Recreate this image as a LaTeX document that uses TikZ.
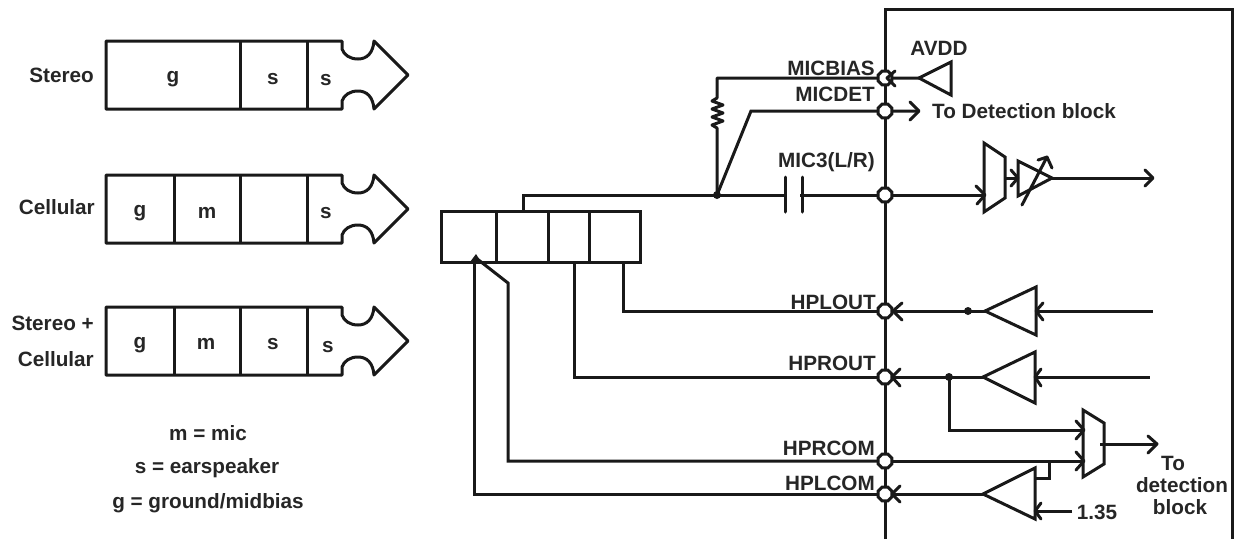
\documentclass[tikz,border=0pt]{standalone}
\usepackage{fontspec}
\setmainfont{Liberation Sans}[BoldFont={Liberation Sans Bold}]
\usetikzlibrary{shapes.geometric}
\begin{document}
\begin{tikzpicture}[x=1pt,y=-1pt,line join=miter,
  ln/.style={line width=3pt,draw=black!90},
  wire/.style={line width=3pt,draw=black!90},
  tip/.style={line width=3pt,draw=black!90,line cap=round,line join=round},
  lbl/.style={font=\bfseries\fontsize{20.7}{22}\selectfont,text=black!85,inner sep=0pt},
  pad/.style={regular polygon,regular polygon sides=8,minimum size=15pt,draw=black!90,fill=white,line width=3pt,inner sep=0pt},
  dotn/.style={circle,fill=black!90,minimum size=8pt,inner sep=0pt}]
\useasboundingbox (0,0) rectangle (1235,539);
\newcommand{\plug}[1]{%
  \draw[ln,line join=round] (106,#1) -- (342,#1) -- (342,#1+8)
    .. controls (344,#1+14) and (350,#1+18) .. (358,#1+18)
    .. controls (367,#1+18) and (373,#1+12) .. (374,#1)
    -- (408,#1+34) -- (374,#1+68)
    .. controls (373,#1+56) and (367,#1+50) .. (358,#1+50)
    .. controls (350,#1+50) and (344,#1+54) .. (342,#1+60)
    -- (342,#1+68) -- (106,#1+68) -- cycle;}
\plug{41}\plug{175}\plug{307}
\draw[ln] (240,41)--(240,109) (307,41)--(307,109);
\draw[ln] (174,175)--(174,243) (240,175)--(240,243) (307,175)--(307,243);
\draw[ln] (174,307)--(174,375) (240,307)--(240,375) (307,307)--(307,375);
\node[lbl,anchor=east] (t1) at (94,75) {Stereo};
\node[lbl,anchor=east] (t2) at (95,207) {Cellular};
\node[lbl,anchor=east] (t3) at (94,323) {Stereo +};
\node[lbl,anchor=east] (t4) at (94,359) {Cellular};
\node[lbl] (a1) at (173,79) {g};
\node[lbl] (a2) at (273,79) {s};
\node[lbl] (a3) at (326,80) {s};
\node[lbl] (b1) at (140,213) {g};
\node[lbl] (b2) at (207,213) {m};
\node[lbl] (b3) at (326,213) {s};
\node[lbl] (c1) at (140,345) {g};
\node[lbl] (c2) at (206,344) {m};
\node[lbl] (c3) at (273,344) {s};
\node[lbl] (c4) at (328,347) {s};
\node[lbl] (k1) at (208,433) {m = mic};
\node[lbl] (k2) at (207,468) {s = earspeaker};
\node[lbl] (k3) at (208,503) {g = ground/midbias};
% jack
\draw[ln] (441,211) rectangle (640,262);
\draw[ln] (496,211)--(496,262) (548,211)--(548,262) (589,211)--(589,262);
% chip
\draw[ln] (885,539) -- (885,9) -- (1232,9) -- (1232,539);
% named points
\coordinate (P1) at (885,78);
\coordinate (P2) at (885,111);
\coordinate (P3) at (885,195);
\coordinate (P4) at (885,311);
\coordinate (P5) at (885,377);
\coordinate (P6) at (885,461);
\coordinate (P7) at (885,494);
\coordinate (J) at (717,195);
\coordinate (D1) at (968,311);
\coordinate (D2) at (949,377);
\node[dotn] (jd) at (J) {};
% wires
\draw[wire] (523,211) -- (523,195) -- (P3);
\draw[wire] (623,262) -- (623,311) -- (P4);
\draw[wire] (574,262) -- (574,377) -- (P5);
\draw[wire] (476,258) -- (508,283) -- (508,461) -- (P6);
\draw[wire] (474,258) -- (474,494) -- (P7);
\fill[black!90] (476,254) -- (481,262) -- (470,262) -- cycle;
% mic
\draw[wire,line join=round] (J) -- (717,128) -- (712,125) -- (723,121) -- (712,117) -- (723,113) -- (712,109) -- (723,105) -- (712,101) -- (717,98) -- (717,78) -- (P1) -- (919,78);
\draw[wire] (J) -- (751,111) -- (P2) -- (919,111);
\draw[tip] (910,102) -- (919,111) -- (910,120);
\fill[white] (787,185) rectangle (800,205);
\draw[tip] (785,177) -- (785,212);
\draw[tip] (802,177) -- (802,212);
\draw[ln] (919,78) -- (951,62) -- (951,95) -- cycle;
% input chain
\draw[wire] (P3) -- (984,195);
\draw[tip] (976,186) -- (985,195) -- (977,204);
\draw[ln] (984,143) -- (1005,157) -- (1005,198) -- (984,212) -- cycle;
\draw[wire] (1005,178) -- (1018,178);
\draw[tip] (1011,170) -- (1018,178) -- (1011,186);
\draw[ln] (1018,161) -- (1052,178) -- (1018,196) -- cycle;
\draw[tip] (1022,205) -- (1047,157);
\draw[tip] (1038,160) -- (1047,157) -- (1052,168);
\draw[wire] (1052,178) -- (1153,178);
\draw[tip] (1145,170) -- (1153,178) -- (1145,186);
% HPLOUT
\node[dotn] (d1) at (D1) {};
\draw[wire] (P4) -- (985,311);
\draw[ln] (985,311) -- (1036,287) -- (1036,335) -- cycle;
\draw[wire] (1036,311) -- (1153,311);
\draw[tip] (1043,303) -- (1036,311) -- (1043,320);
\draw[tip] (902,303) -- (893,311) -- (902,320);
% HPROUT
\node[dotn] (d2) at (D2) {};
\draw[wire] (P5) -- (983,377);
\draw[ln] (983,377) -- (1035,352) -- (1035,403) -- cycle;
\draw[wire] (1035,377) -- (1150,377);
\draw[tip] (1041,369) -- (1035,377) -- (1041,386);
\draw[tip] (900,369) -- (892,377) -- (900,386);
\draw[wire] (D2) -- (949,430) -- (1083,430);
\draw[tip] (1076,421) -- (1084,430) -- (1076,439);
% mux2
\draw[ln] (1083,410) -- (1104,423) -- (1104,464) -- (1083,477) -- cycle;
\draw[wire] (P6) -- (1083,461);
\draw[tip] (1076,452) -- (1084,461) -- (1076,470);
\draw[wire] (1100,444) -- (1157,444);
\draw[tip] (1148,436) -- (1157,444) -- (1148,453);
% HPLCOM
\draw[wire] (P7) -- (983,494);
\draw[ln] (983,494) -- (1035,468) -- (1035,519) -- cycle;
\draw[wire] (1035,478) -- (1049,478) -- (1049,461);
\draw[wire] (1072,511) -- (1035,511);
\draw[tip] (1041,503) -- (1035,511) -- (1041,519);
\draw[tip] (900,486) -- (892,494) -- (900,502);
% pads
\node[pad] (p1) at (P1) {};
\node[pad] (p2) at (P2) {};
\node[pad] (p3) at (P3) {};
\node[pad] (p4) at (P4) {};
\node[pad] (p5) at (P5) {};
\node[pad] (p6) at (P6) {};
\node[pad] (p7) at (P7) {};
\draw[tip] (895,71) -- (887,78) -- (895,86);
% labels
\node[lbl,anchor=east] (l1) at (875,68) {MICBIAS};
\node[lbl,anchor=east] (l2) at (875,94) {MICDET};
\node[lbl,anchor=east] (l3) at (875,162) {MIC3(L/R)};
\node[lbl] (l4) at (939,48) {AVDD};
\node[lbl,anchor=west] (l5) at (932,111) {To Detection block};
\node[lbl,anchor=east] (l6) at (876,302) {HPLOUT};
\node[lbl,anchor=east] (l7) at (876,363) {HPROUT};
\node[lbl,anchor=east] (l8) at (875,448) {HPRCOM};
\node[lbl,anchor=east] (l9) at (875,483) {HPLCOM};
\node[lbl] (l10) at (1097,512) {1.35};
\node[lbl] (l11) at (1173,463) {To};
\node[lbl] (l12) at (1182,485) {detection};
\node[lbl] (l13) at (1180,507) {block};
\end{tikzpicture}
\end{document}
